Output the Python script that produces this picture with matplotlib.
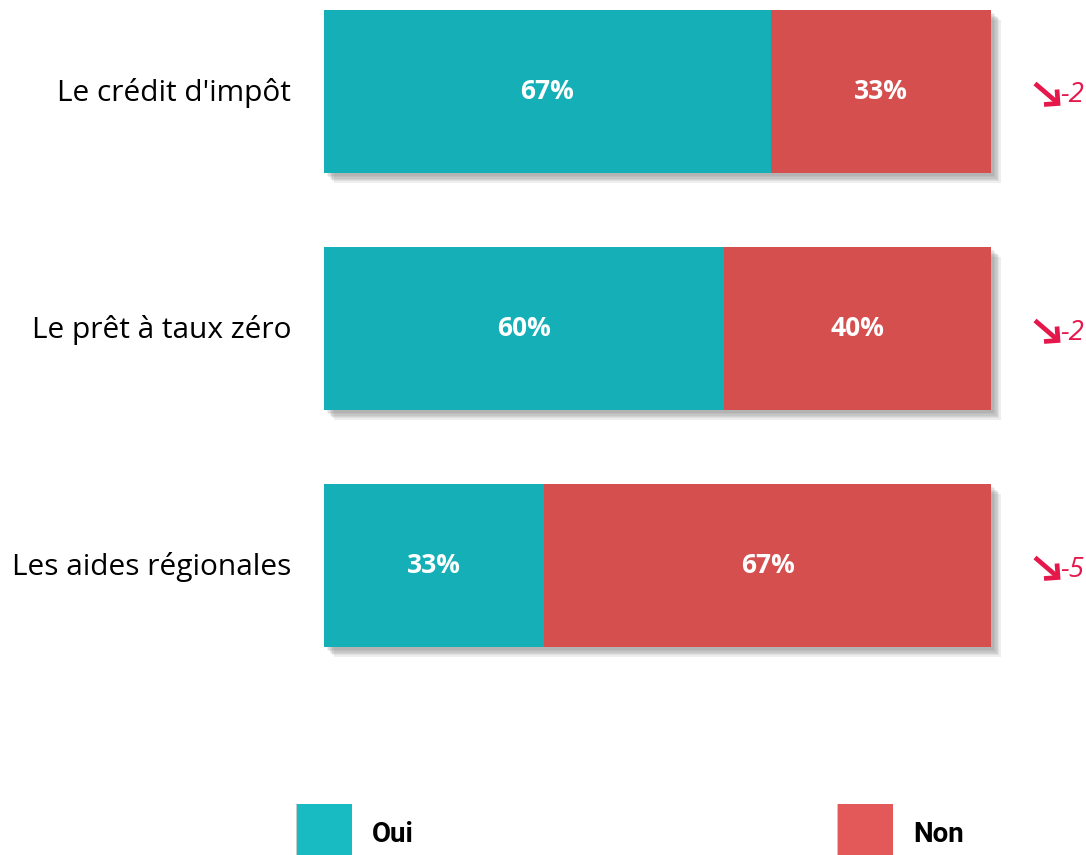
import matplotlib
matplotlib.use("Agg")
import matplotlib.pyplot as plt
import matplotlib.patheffects as pe
from matplotlib.patches import Rectangle
from matplotlib.lines import Line2D
from matplotlib.transforms import Affine2D

categories = ["Le crédit d'impôt", "Le prêt à taux zéro", "Les aides régionales"]
oui = [67, 60, 33]
non = [33, 40, 67]
evolution = ["-2", "-2", "-5"]
legend_labels = ["Oui", "Non"]

C_OUI = "#14AFB7"
C_NON = "#D64F4F"
C_ARROW = "#E5184C"

W, H = 1086, 855
fig = plt.figure(figsize=(W / 100, H / 100), dpi=100)
fig.patch.set_facecolor("white")

# pixel transform (top-left origin)
px = Affine2D().scale(1 / W, -1 / H).translate(0, 1) + fig.transFigure

# axes: x 324..991 px, y 10..647 px
ax = fig.add_axes([324 / W, 1 - 647 / H, (991 - 324) / W, (647 - 10) / H])
half = 0.344
ax.set_xlim(0, 100)
ax.set_ylim(len(categories) - 1 + half, -half)
ax.axis("off")

shadow = [pe.SimplePatchShadow(offset=(o, -o), shadow_rgbFace="#777777", alpha=0.12)
          for o in (7, 6, 5, 4, 3, 2)] + [pe.Normal()]
ys = list(range(len(categories)))
b1 = ax.barh(ys, oui, height=2 * half, color=C_OUI, linewidth=0)
b2 = ax.barh(ys, non, left=oui, height=2 * half, color=C_NON, linewidth=0)
for r in b2:
    r.set_path_effects(shadow)
    r.set_clip_on(False)
    r.set_zorder(2)
for r in b1:
    r.set_path_effects(shadow)
    r.set_clip_on(False)
    r.set_zorder(1)

for y, o, n in zip(ys, oui, non):
    ax.text(o / 2, y, f"{o}%", color="white", ha="center", va="center",
            fontsize=19, fontweight="bold", family="Open Sans", zorder=5)
    ax.text(o + n / 2, y, f"{n}%", color="white", ha="center", va="center",
            fontsize=19, fontweight="bold", family="Open Sans", zorder=5)

for y, cat, ev in zip(ys, categories, evolution):
    yc = 10 + 237 * y + 81.5
    fig.text(291, yc + 1, cat, transform=px, ha="right", va="center", fontsize=21.5,
             family="Open Sans", color="black")
    tx, ty = 1058, yc + 12
    fig.add_artist(Line2D([1035, tx - 2], [yc - 8, ty - 2], transform=px, color=C_ARROW,
                          lw=3.4, solid_capstyle="butt"))
    fig.add_artist(Line2D([tx - 1, tx, tx - 14], [ty - 14, ty, ty + 1], transform=px,
                          color=C_ARROW, lw=3.4, solid_capstyle="butt",
                          solid_joinstyle="miter"))
    fig.text(1060, yc + 4, ev, transform=px, ha="left", va="center", fontsize=20,
             family="Open Sans", style="italic", color=C_ARROW)

# legend
leg_colors = ["#19BBC3", "#E35858"]
leg_x = [297, 838]
for lx, lc, lab in zip(leg_x, leg_colors, legend_labels):
    fig.patches.append(Rectangle((lx, 804), 55, 60, transform=px,
                                 facecolor=lc, edgecolor="none",
                                 path_effects=[pe.SimplePatchShadow(offset=(-1, 0), alpha=0.25), pe.Normal()]))
    fig.text(lx + 75, 834, lab, transform=px, ha="left", va="center", fontsize=20,
             fontweight="bold", family="Roboto", color="black")

fig.savefig("out.png", dpi=100, facecolor="white")
